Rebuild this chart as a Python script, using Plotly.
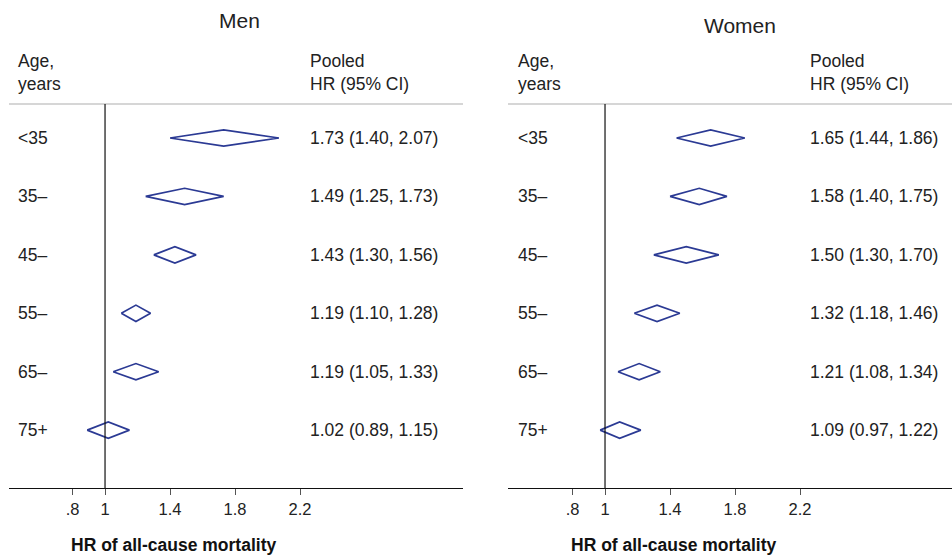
import plotly.graph_objects as go

ages = ["<35", "35–", "45–", "55–", "65–", "75+"]
men_hr = [1.73, 1.49, 1.43, 1.19, 1.19, 1.02]
men_lo = [1.40, 1.25, 1.30, 1.10, 1.05, 0.89]
men_hi = [2.07, 1.73, 1.56, 1.28, 1.33, 1.15]
women_hr = [1.65, 1.58, 1.50, 1.32, 1.21, 1.09]
women_lo = [1.44, 1.40, 1.30, 1.18, 1.08, 0.97]
women_hi = [1.86, 1.75, 1.70, 1.46, 1.34, 1.22]
tick_vals = [0.8, 1, 1.4, 1.8, 2.2]
tick_text = [".8", "1", "1.4", "1.8", "2.2"]

FONT = "Liberation Sans, Arial, Helvetica, sans-serif"
DIAMOND = "#2b3a94"
H = 0.14  # half height of diamonds (row units)
TS = 17.5

fig = go.Figure()
panels = [
    ("Men", men_hr, men_lo, men_hi, "x", "y", [9 / 952, 463 / 952], [0.409, 3.203]),
    ("Women", women_hr, women_lo, women_hi, "x2", "y2", [508 / 952, 1.0], [0.403, 3.135]),
]
annotations = []
shapes = []
layout = {}
for idx, (name, hr, lo, hi, xa, ya, dom, rng) in enumerate(panels):
    for i, (e, l, h) in enumerate(zip(hr, lo, hi)):
        r = i + 1
        fig.add_trace(go.Scatter(
            x=[l, e, h, e, l], y=[r, r - H, r, r + H, r], mode="lines",
            line=dict(color=DIAMOND, width=1.7), xaxis=xa, yaxis=ya,
            showlegend=False, hoverinfo="skip"))
        annotations.append(dict(x=0.45, y=r, xref=xa, yref=ya, text=ages[i],
                                showarrow=False, xanchor="left", yanchor="middle",
                                font=dict(size=TS, color="#222")))
        annotations.append(dict(x=2.248, y=r, xref=xa, yref=ya,
                                text=f"{e:.2f} ({l:.2f}, {h:.2f})",
                                showarrow=False, xanchor="left", yanchor="middle",
                                font=dict(size=TS, color="#222")))
    # headers
    annotations.append(dict(x=0.45, y=1 - 72 / 558, xref=xa, yref="paper",
                            text="Age,<br>years", showarrow=False, xanchor="left",
                            yanchor="middle", align="left",
                            font=dict(size=TS, color="#222")))
    annotations.append(dict(x=2.248, y=1 - 72 / 558, xref=xa, yref="paper",
                            text="Pooled<br>HR (95% CI)", showarrow=False, xanchor="left",
                            yanchor="middle", align="left",
                            font=dict(size=TS, color="#222")))
    annotations.append(dict(x=1.83, y=1 - (20 if idx == 0 else 25) / 558, xref=xa, yref="paper",
                            text=name, showarrow=False, xanchor="center",
                            yanchor="middle", font=dict(size=21, color="#222")))
    annotations.append(dict(x=1.42, y=1 - 545 / 558, xref=xa, yref="paper",
                            text="<b>HR of all-cause mortality</b>", showarrow=False,
                            xanchor="center", yanchor="middle",
                            font=dict(size=17.5, color="#111")))
    shapes.append(dict(type="line", xref=f"{xa} domain", yref=f"{ya} domain",
                       x0=0, x1=1, y0=1, y1=1, line=dict(color="#c8c8c8", width=1.5)))
    shapes.append(dict(type="line", xref=xa, yref=f"{ya} domain",
                       x0=1, x1=1, y0=0, y1=1, line=dict(color="#111", width=1.2)))
    axn = "xaxis" if idx == 0 else "xaxis2"
    ayn = "yaxis" if idx == 0 else "yaxis2"
    layout[axn] = dict(domain=dom, range=rng, tickvals=tick_vals, ticktext=tick_text,
                       showgrid=False, zeroline=False, showline=True, linecolor="#111",
                       linewidth=1.2, ticks="outside", ticklen=6, tickcolor="#555",
                       tickfont=dict(size=16.5, color="#222"), anchor=ya)
    layout[ayn] = dict(domain=[70 / 558, 454 / 558], range=[6.99, 0.418], visible=False,
                       anchor=xa)

fig.update_layout(**layout)
fig.update_layout(
    width=952, height=558, margin=dict(l=0, r=0, t=0, b=0),
    paper_bgcolor="white", plot_bgcolor="white",
    font=dict(family=FONT), annotations=annotations, shapes=shapes,
)
fig.write_html("out.html")
